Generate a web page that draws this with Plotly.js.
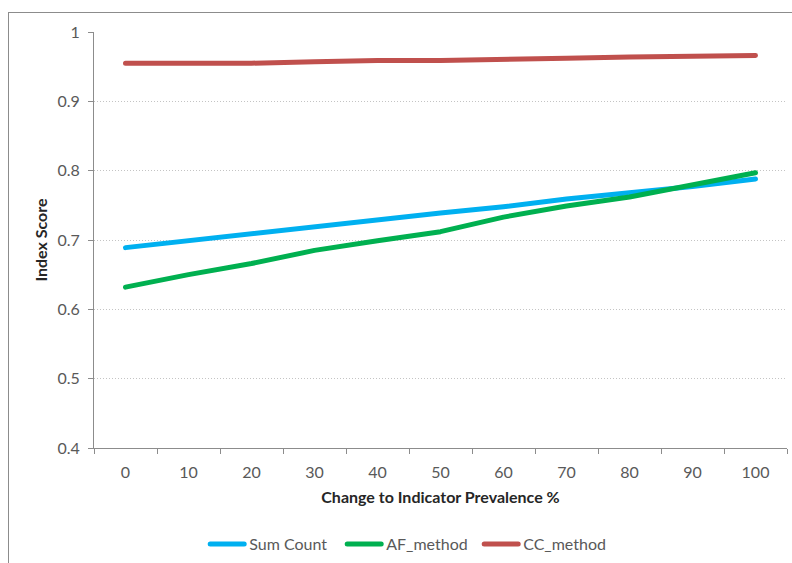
<!DOCTYPE html>
<html>
<head>
<meta charset="utf-8">
<script src="https://cdn.plot.ly/plotly-3.0.1.min.js"></script>
<style>
  html, body { margin: 0; padding: 0; background: #fff; }
  #wrap { position: relative; width: 792px; height: 563px; overflow: hidden; }
  #chart { width: 792px; height: 563px; }
  #frame { position: absolute; left: 8px; top: 12px; width: 790px; height: 560px;
           border: 1px solid #8c8c8c; pointer-events: none; }
</style>
</head>
<body>
<div id="wrap">
  <div id="chart"></div>
  <div id="frame"></div>
</div>
<script>
// Change to indicator prevalence (%), one category per step
const categories = ["0", "10", "20", "30", "40", "50", "60", "70", "80", "90", "100"];

// Index scores per method
const sumCount = [0.689, 0.699, 0.710, 0.720, 0.729, 0.739, 0.748, 0.759, 0.768, 0.777, 0.788];
const afMethod = [0.632, 0.650, 0.666, 0.685, 0.699, 0.712, 0.733, 0.749, 0.762, 0.779, 0.797];
const ccMethod = [0.955, 0.955, 0.955, 0.957, 0.959, 0.959, 0.960, 0.962, 0.964, 0.965, 0.966];

const seriesNames = ["Sum Count", "AF_method", "CC_method"];
const seriesColors = ["#00B0F0", "#00B050", "#C0504D"];
const seriesValues = [sumCount, afMethod, ccMethod];

const yTicks = [0.4, 0.5, 0.6, 0.7, 0.8, 0.9, 1];

const FONT = "Lato, 'Open Sans', 'Liberation Sans', sans-serif";
const SIZE = 16;

const traces = seriesValues.map((vals, i) => ({
  type: "scatter",
  mode: "lines",
  name: seriesNames[i],
  x: categories,
  y: vals,
  line: { color: seriesColors[i], width: 5, shape: "linear" },
  hoverinfo: "x+y+name"
}));

const layout = {
  width: 792,
  height: 563,
  margin: { l: 94, r: 5, t: 32, b: 115, autoexpand: false },
  paper_bgcolor: "#ffffff",
  plot_bgcolor: "#ffffff",
  font: { family: FONT, size: SIZE, color: "#595959" },
  showlegend: true,
  legend: {
    orientation: "h",
    x: 0.457, xanchor: "center",
    y: -0.231, yanchor: "middle",
    font: { family: FONT, size: SIZE, color: "#595959" },
    itemwidth: 34,
    entrywidth: 88,
    entrywidthmode: "pixels",
    tracegroupgap: 0
  },
  xaxis: {
    type: "category",
    range: [-0.5, 10.5],
    automargin: false,
    showline: true,
    linecolor: "#8c8c8c",
    linewidth: 1,
    ticks: "outside",
    tickson: "boundaries",
    ticklen: 5,
    tickcolor: "#8c8c8c",
    showgrid: false,
    zeroline: false,
    ticklabelstandoff: 10,
    tickfont: { family: FONT, size: SIZE, color: "#595959" },
    title: {
      text: "<b>Change to Indicator Prevalence %</b>",
      font: { family: FONT, size: SIZE, color: "#262626" },
      standoff: 11
    }
  },
  yaxis: {
    range: [0.4, 1],
    automargin: false,
    tickvals: yTicks,
    ticktext: yTicks.map(v => String(v)),
    showline: true,
    linecolor: "#8c8c8c",
    linewidth: 1,
    ticks: "outside",
    ticklen: 5,
    tickcolor: "#8c8c8c",
    showgrid: true,
    gridcolor: "#c4c4c4",
    griddash: "1px,2px",
    gridwidth: 1,
    zeroline: false,
    ticklabelstandoff: 5,
    tickfont: { family: FONT, size: SIZE, color: "#595959" },
    title: {
      text: "<b>Index Score</b>",
      font: { family: FONT, size: SIZE, color: "#262626" },
      standoff: 5
    }
  }
};

Plotly.newPlot("chart", traces, layout, { displayModeBar: false, staticPlot: true }).then(() => {
  // rounded line ends, as in the original chart style
  document.querySelectorAll("#chart path.js-line, #chart .legendlines path").forEach(p => {
    p.style.strokeLinecap = "round";
    p.style.strokeLinejoin = "round";
  });
});
</script>
</body>
</html>
